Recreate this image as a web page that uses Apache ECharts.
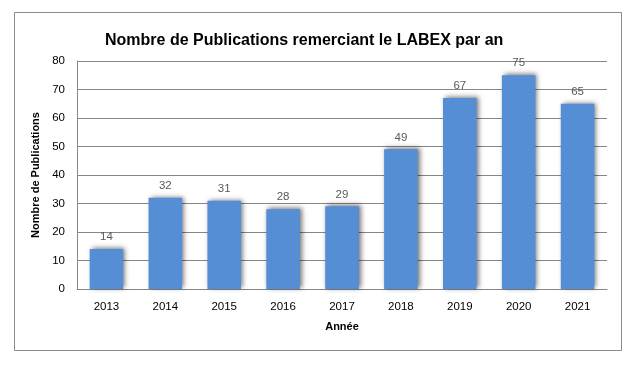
<!DOCTYPE html>
<html><head><meta charset="utf-8">
<script src="https://cdn.jsdelivr.net/npm/echarts@6/dist/echarts.min.js"></script>
<style>html,body{margin:0;padding:0;background:#fff}#c{width:643px;height:367px}</style>
</head><body><div id="c"></div>
<script>
var years = ['2013','2014','2015','2016','2017','2018','2019','2020','2021'];
var publications = [14, 32, 31, 28, 29, 49, 67, 75, 65];
var chart = echarts.init(document.getElementById('c'));
var font = "'Liberation Sans', Arial, sans-serif";
chart.setOption({
  animation: false,
  graphic: [{type:'rect', shape:{x:14.5,y:12.5,width:607,height:338}, style:{fill:'none', stroke:'#8c8c8c', lineWidth:1}}],
  title: {text:'Nombre de Publications remerciant le LABEX par an', left:100, top:28,
    textStyle:{fontFamily:font, fontSize:16, fontWeight:'bold', color:'#000'}},
  grid: {left:77, right:36, top:61, bottom:78},
  xAxis: {type:'category', data:years, name:'Année', nameLocation:'middle', nameGap:32,
    nameTextStyle:{fontFamily:font, fontSize:11, fontWeight:'bold', color:'#000'},
    axisLine:{lineStyle:{color:'#868686'}}, axisTick:{show:false},
    axisLabel:{fontFamily:font, fontSize:11.5, color:'#000', margin:12}},
  yAxis: {type:'value', min:0, max:80, interval:10, name:'Nombre de Publications', nameLocation:'middle', nameGap:30,
    nameTextStyle:{fontFamily:font, fontSize:11, fontWeight:'bold', color:'#000'},
    axisLine:{show:true, lineStyle:{color:'#868686'}}, axisTick:{show:false},
    axisLabel:{fontFamily:font, fontSize:11.5, color:'#000', margin:12},
    splitLine:{lineStyle:{color:'#868686'}}},
  series: [{type:'bar', data:publications, barCategoryGap:'43%',
    itemStyle:{color:'#558ed5', shadowColor:'rgba(0,0,0,0.55)', shadowBlur:5, shadowOffsetX:2, shadowOffsetY:-1},
    label:{show:true, position:'top', distance:6, fontFamily:font, fontSize:11.5, color:'#595959'}}]
});
</script></body></html>
